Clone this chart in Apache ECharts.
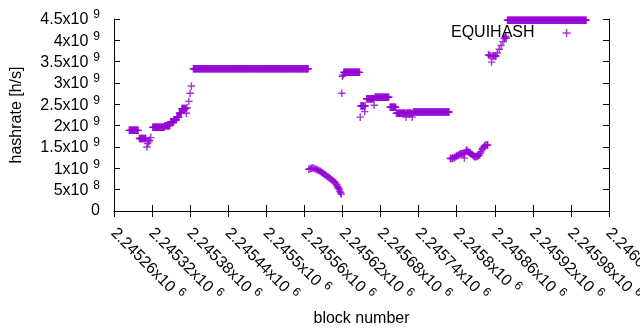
<!DOCTYPE html>
<html>
<head>
<meta charset="utf-8">
<script src="https://cdn.jsdelivr.net/npm/echarts@6/dist/echarts.min.js"></script>
<style>
html,body{margin:0;padding:0;background:#fff;}
#chart{width:640px;height:330px;}
</style>
</head>
<body>
<div id="chart"></div>
<script>
// Axis ranges / ticks
const xMin = 2245260, xMax = 2246040, xStep = 60;
const yMin = 0, yMax = 4.5e9, yStep = 5e8;
const seriesName = 'EQUIHASH';

// Flat runs of constant hashrate: [firstBlock, lastBlock, hashrate]
const flatRuns = [
  [2245284, 2245298, 1.89e9],
  [2245300, 2245310, 1.70e9],
  [2245321, 2245339, 1.96e9],
  [2245340, 2245348, 2.00e9],
  [2245349, 2245354, 2.09e9],
  [2245355, 2245358, 2.14e9],
  [2245359, 2245362, 2.20e9],
  [2245363, 2245366, 2.30e9],
  [2245367, 2245373, 2.40e9],
  [2245385, 2245566, 3.335e9],
  [2245622, 2245647, 3.25e9],
  [2245649, 2245654, 2.46e9],
  [2245658, 2245669, 2.63e9],
  [2245671, 2245693, 2.665e9],
  [2245695, 2245704, 2.43e9],
  [2245705, 2245719, 2.29e9],
  [2245721, 2245729, 2.29e9],
  [2245731, 2245731, 2.29e9],
  [2245732, 2245788, 2.32e9],
  [2245880, 2246004, 4.47e9]
];

// Individual blocks: [block, hashrate]
const rampPoints = [
  [2245312, 1.50e9], [2245313, 1.58e9], [2245315, 1.62e9], [2245316, 1.66e9], [2245318, 1.72e9],
  [2245374, 2.29e9], [2245375, 2.42e9], [2245378, 2.57e9], [2245380, 2.76e9], [2245382, 2.93e9]
];

const dropPoints = [
  [2245567, 0.98e9], [2245569, 0.99e9], [2245571, 1.00e9], [2245573, 1.01e9], [2245575, 1.00e9],
  [2245577, 0.99e9], [2245579, 0.97e9], [2245581, 0.96e9], [2245583, 0.95e9], [2245585, 0.93e9],
  [2245587, 0.91e9], [2245589, 0.89e9], [2245591, 0.87e9], [2245593, 0.85e9], [2245595, 0.82e9],
  [2245597, 0.80e9], [2245599, 0.78e9], [2245601, 0.76e9], [2245603, 0.73e9], [2245605, 0.71e9],
  [2245607, 0.68e9], [2245609, 0.66e9], [2245611, 0.62e9], [2245612, 0.58e9], [2245613, 0.55e9],
  [2245614, 0.53e9], [2245615, 0.50e9], [2245616, 0.46e9], [2245617, 0.43e9], [2245618, 0.40e9]
];

const midPoints = [
  [2245619, 2.76e9], [2245620, 3.16e9], [2245621, 3.19e9], [2245648, 2.20e9],
  [2245655, 2.33e9], [2245656, 2.46e9], [2245670, 2.48e9], [2245720, 2.20e9], [2245730, 2.20e9]
];

const lowCluster = [
  [2245790, 1.23e9], [2245791, 1.23e9], [2245793, 1.24e9], [2245794, 1.23e9], [2245796, 1.26e9],
  [2245797, 1.25e9], [2245799, 1.28e9], [2245800, 1.29e9], [2245802, 1.30e9], [2245803, 1.31e9],
  [2245805, 1.33e9], [2245806, 1.34e9], [2245808, 1.34e9], [2245809, 1.35e9], [2245811, 1.33e9],
  [2245812, 1.24e9], [2245813, 1.36e9], [2245815, 1.41e9], [2245816, 1.43e9], [2245818, 1.39e9],
  [2245819, 1.37e9], [2245821, 1.36e9], [2245822, 1.35e9], [2245824, 1.33e9], [2245825, 1.31e9],
  [2245827, 1.29e9], [2245828, 1.27e9], [2245830, 1.28e9], [2245831, 1.27e9], [2245833, 1.29e9],
  [2245834, 1.30e9], [2245836, 1.31e9], [2245837, 1.35e9], [2245838, 1.39e9], [2245840, 1.44e9],
  [2245841, 1.47e9], [2245843, 1.50e9], [2245844, 1.53e9], [2245846, 1.55e9], [2245848, 1.54e9],
  [2245849, 1.55e9]
];

const highCluster = [
  [2245850, 3.66e9], [2245851, 3.65e9], [2245853, 3.64e9], [2245855, 3.49e9], [2245856, 3.63e9],
  [2245858, 3.64e9], [2245859, 3.62e9], [2245861, 3.64e9], [2245862, 3.63e9], [2245864, 3.70e9],
  [2245867, 3.79e9], [2245870, 3.88e9], [2245873, 3.97e9], [2245875, 4.04e9], [2245876, 4.07e9],
  [2245877, 4.09e9], [2245878, 4.05e9]
];

// build the series data
const data = [];
flatRuns.forEach(function (r) {
  for (let b = r[0]; b <= r[1]; b++) data.push([b, r[2]]);
});
[rampPoints, dropPoints, midPoints, lowCluster, highCluster].forEach(function (arr) {
  arr.forEach(function (p) { data.push(p); });
});

const plusPath = 'path://M6.5,0H9.5V6.5H16V9.5H9.5V16H6.5V9.5H0V6.5H6.5Z';
const FONT = '"Liberation Sans", Arial, sans-serif';

function sci(v) {
  if (v === 0) return '0';
  const e = Math.floor(Math.log10(Math.abs(v)) + 1e-9);
  const m = +(v / Math.pow(10, e)).toPrecision(10);
  return '{m|' + m + 'x10}{s|' + e + '}';
}
const rich = {
  m: { fontSize: 16, fontFamily: FONT, color: '#000', verticalAlign: 'bottom', lineHeight: 18 },
  s: { fontSize: 12, fontFamily: FONT, color: '#000', verticalAlign: 'bottom', padding: [0, 0, 7, 5], lineHeight: 18 }
};

const chart = echarts.init(document.getElementById('chart'), null, { renderer: 'canvas' });
const axisLine = { show: true, lineStyle: { color: '#000', width: 1 } };
const axisTick = { show: true, inside: true, length: 6, lineStyle: { color: '#000', width: 1 } };

chart.setOption({
  animation: false,
  backgroundColor: '#fff',
  textStyle: { fontFamily: FONT },
  grid: { left: 114, top: 19, width: 495, height: 192, containLabel: false, outerBoundsMode: 'none' },
  legend: {
    data: [{ name: seriesName, icon: plusPath }],
    left: 451, top: 25, padding: 0,
    align: 'right',
    itemWidth: 54, itemHeight: 8,
    textStyle: { fontSize: 16, color: '#000', fontFamily: FONT },
    selectedMode: false
  },
  xAxis: [{
    type: 'value', min: xMin, max: xMax, interval: xStep,
    name: 'block number', nameLocation: 'middle', nameGap: 98,
    nameTextStyle: { fontSize: 16, color: '#000', fontFamily: FONT },
    axisLine: axisLine, axisTick: axisTick, splitLine: { show: false },
    axisLabel: { rotate: -45, margin: 19, formatter: sci, rich: rich, showMaxLabel: true, showMinLabel: true, hideOverlap: false }
  }, {
    type: 'value', position: 'top', min: xMin, max: xMax, interval: xStep,
    axisLine: axisLine, axisTick: axisTick, splitLine: { show: false }, axisLabel: { show: false }
  }],
  yAxis: [{
    type: 'value', min: yMin, max: yMax, interval: yStep,
    name: 'hashrate [h/s]', nameLocation: 'middle', nameGap: 89,
    nameTextStyle: { fontSize: 16, color: '#000', fontFamily: FONT },
    axisLine: axisLine, axisTick: axisTick, splitLine: { show: false },
    axisLabel: { margin: 14, formatter: sci, rich: rich, fontSize: 16, color: '#000' }
  }, {
    type: 'value', position: 'right', min: yMin, max: yMax, interval: yStep,
    axisLine: axisLine, axisTick: axisTick, splitLine: { show: false }, axisLabel: { show: false }
  }],
  series: [{
    name: seriesName,
    type: 'scatter',
    data: data,
    symbol: plusPath,
    symbolSize: 7.5,
    clip: false,
    itemStyle: { color: '#9400d3' }
  }]
});
</script>
</body>
</html>
